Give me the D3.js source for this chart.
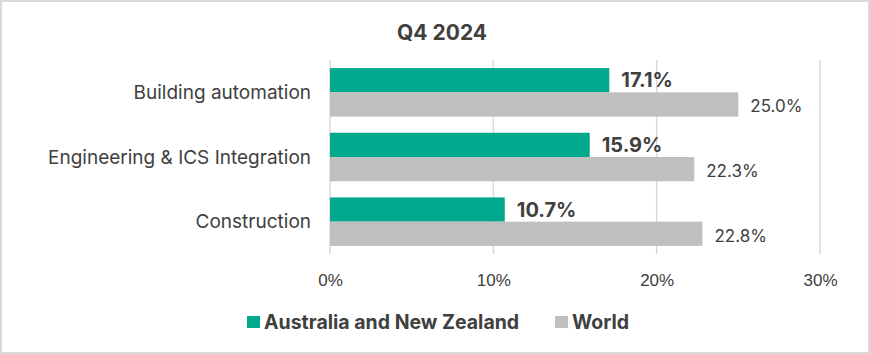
<!DOCTYPE html>
<html>
<head>
<meta charset="utf-8">
<script src="https://cdn.jsdelivr.net/npm/d3@7"></script>
<style>
  body { margin: 0; background: #fff; }
  svg { font-family: Inter, "Noto Sans", sans-serif; }
</style>
</head>
<body>
<svg id="drawing_region"></svg>
<script>
const categories = ['Building automation', 'Engineering & ICS Integration', 'Construction'];
const series = ['Australia and New Zealand', 'World'];
const anzValues = [17.1, 15.9, 10.7];
const worldValues = [25.0, 22.3, 22.8];
const xTicks = [0, 10, 20, 30];
const colors = ['#00a88e', '#bfbfbf'];

const width = 870, height = 354;
const margin = {top: 60, right: 50, bottom: 100, left: 330};

const svg = d3.select('#drawing_region')
    .attr('width', width)
    .attr('height', height);

// outer frame
svg.append('rect')
    .attr('x', 1).attr('y', 1)
    .attr('width', width - 2).attr('height', height - 2)
    .attr('fill', '#fff')
    .attr('stroke', '#d9d9d9')
    .attr('stroke-width', 2);

const chart = svg.append('g')
    .attr('transform', `translate(${margin.left}, ${margin.top})`);

const xscale = d3.scaleLinear().domain([0, 30]).range([0, 490]);
const yscale = d3.scaleBand().domain(categories).range([0, 194]).paddingInner(0.25).paddingOuter(0.125);
const sub = d3.scaleBand().domain(series).range([0, yscale.bandwidth()]);

// gridlines
chart.selectAll('.grid')
    .data(xTicks)
    .enter()
    .append('line')
    .attr('x1', d => xscale(d)).attr('x2', d => xscale(d))
    .attr('y1', 0).attr('y2', 194)
    .attr('stroke', '#d9d9d9')
    .attr('stroke-width', 1.5);

const rows = categories.map((c, i) => ({cat: c, vals: [anzValues[i], worldValues[i]]}));

const groups = chart.selectAll('.row')
    .data(rows)
    .enter()
    .append('g')
    .attr('transform', d => `translate(0, ${yscale(d.cat)})`);

groups.selectAll('rect')
    .data(d => d.vals.map((v, j) => ({s: series[j], v: v, j: j})))
    .enter()
    .append('rect')
    .attr('x', xscale(0))
    .attr('y', d => sub(d.s))
    .attr('width', d => xscale(d.v) - xscale(0))
    .attr('height', sub.bandwidth())
    .attr('fill', d => colors[d.j]);

groups.selectAll('.val')
    .data(d => d.vals.map((v, j) => ({s: series[j], v: v, j: j})))
    .enter()
    .append('text')
    .attr('x', d => xscale(d.v) + 12)
    .attr('y', d => sub(d.s) + sub.bandwidth() / 2 + (d.j === 0 ? 0 : 2))
    .attr('dy', '0.35em')
    .attr('fill', '#404040')
    .style('font-size', d => d.j === 0 ? '20px' : '17px')
    .style('font-weight', d => d.j === 0 ? 'bold' : 'normal')
    .text(d => d.v.toFixed(1) + '%');

// category labels
chart.selectAll('.cat')
    .data(categories)
    .enter()
    .append('text')
    .attr('x', -19)
    .attr('y', d => yscale(d) + yscale.bandwidth() / 2)
    .attr('dy', '0.35em')
    .attr('text-anchor', 'end')
    .attr('fill', '#404040')
    .style('font-size', '19px')
    .text(d => d);

// x axis
const xaxis = d3.axisBottom(xscale)
    .tickValues(xTicks)
    .tickSize(0)
    .tickPadding(14)
    .tickFormat(d => d + '%');

const xg = chart.append('g')
    .attr('transform', `translate(0, 200)`)
    .call(xaxis);
xg.select('.domain').remove();
xg.selectAll('text')
    .attr('fill', '#404040')
    .style('font-size', '17px')
    .style('font-weight', '300');

// title
svg.append('text')
    .attr('x', 442)
    .attr('y', 40)
    .attr('text-anchor', 'middle')
    .attr('fill', '#404040')
    .style('font-size', '21px')
    .style('font-weight', 'bold')
    .text('Q4 2024');

// legend
const legend = svg.append('g');
const legendItems = [{x: 247, s: series[0], c: colors[0]}, {x: 555, s: series[1], c: colors[1]}];
legendItems.forEach(it => {
    legend.append('rect')
        .attr('x', it.x).attr('y', 316)
        .attr('width', 13).attr('height', 12)
        .attr('fill', it.c);
    legend.append('text')
        .attr('x', it.x + 17).attr('y', 322)
        .attr('dy', '0.35em')
        .attr('fill', '#404040')
        .style('font-size', '19.5px')
        .style('font-weight', 'bold')
        .text(it.s);
});
</script>
</body>
</html>
